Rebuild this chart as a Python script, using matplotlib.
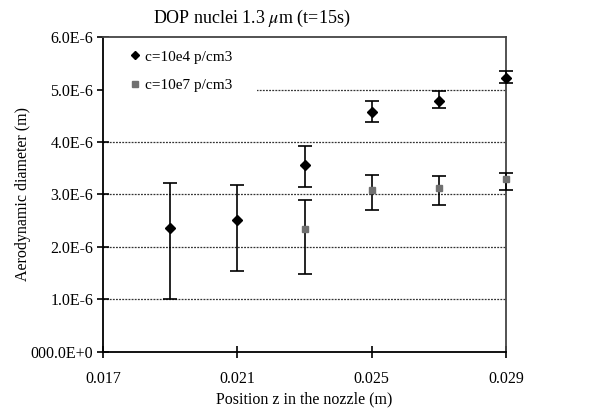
import matplotlib.pyplot as plt
from matplotlib.lines import Line2D
from matplotlib.patches import Rectangle
from matplotlib.ticker import FixedLocator

plt.rcParams["font.family"] = ["Liberation Serif", "DejaVu Serif"]
plt.rcParams["mathtext.fontset"] = "stix"

# c=10e4 p/cm3
z_low = [0.019, 0.021, 0.023, 0.025, 0.027, 0.029]
d_low = [2.37e-6, 2.51e-6, 3.57e-6, 4.57e-6, 4.79e-6, 5.22e-6]
d_low_hi = [3.215e-6, 3.19e-6, 3.92e-6, 4.79e-6, 4.965e-6, 5.35e-6]
d_low_lo = [1.01e-6, 1.55e-6, 3.14e-6, 4.39e-6, 4.64e-6, 5.13e-6]

# c=10e7 p/cm3
z_high = [0.023, 0.025, 0.027, 0.029]
d_high = [2.34e-6, 3.08e-6, 3.13e-6, 3.30e-6]
d_high_hi = [2.895e-6, 3.37e-6, 3.35e-6, 3.40e-6]
d_high_lo = [1.49e-6, 2.70e-6, 2.80e-6, 3.08e-6]

x_ticks = [0.017, 0.021, 0.025, 0.029]
y_ticks = [0, 1e-6, 2e-6, 3e-6, 4e-6, 5e-6, 6e-6]
y_labels = ["000.0E+0", "1.0E-6", "2.0E-6", "3.0E-6", "4.0E-6", "5.0E-6", "6.0E-6"]

fig = plt.figure(figsize=(6.14, 4.16), dpi=100)
ax = fig.add_axes([0.168, 0.154, 0.656, 0.757])

err_low = [[v - lo for v, lo in zip(d_low, d_low_lo)],
           [hi - v for v, hi in zip(d_low, d_low_hi)]]
err_high = [[v - lo for v, lo in zip(d_high, d_high_lo)],
            [hi - v for v, hi in zip(d_high, d_high_hi)]]

for z, d, err, mk, col, ms in [(z_low, d_low, err_low, "D", "black", 5),
                               (z_high, d_high, err_high, "s", "#707070", 5)]:
    cont = ax.errorbar(z, d, yerr=err, fmt=mk, color=col, ms=ms,
                       ecolor="black", elinewidth=1.2, capsize=5, capthick=1.2,
                       zorder=3)
    cont.lines[0].set_clip_on(False)
    for art in cont.lines[1] + cont.lines[2]:
        art.set_clip_on(False)

ax.set_xlim(0.017, 0.029)
ax.set_ylim(0, 6e-6)
ax.xaxis.set_major_locator(FixedLocator(x_ticks))
ax.set_xticklabels(["%.3f" % v for v in x_ticks])
ax.yaxis.set_major_locator(FixedLocator(y_ticks))
ax.set_yticklabels(y_labels)
ax.tick_params(direction="inout", length=8, width=1.2, labelsize=11.5, colors="black")
ax.tick_params(axis="x", pad=10)
ax.tick_params(axis="y", pad=3)

for y in y_ticks[1:-1]:
    ax.axhline(y, color="#333333", lw=0.9, ls=(0, (1.5, 1)), zorder=1)

for s in ["left", "bottom"]:
    ax.spines[s].set_linewidth(1.3)
    ax.spines[s].set_color("black")
for s in ["top", "right"]:
    ax.spines[s].set_linewidth(1.3)
    ax.spines[s].set_color("#444444")

ax.set_xlabel("Position z in the nozzle (m)", fontsize=11.5)
ax.set_ylabel("Aerodynamic diameter (m)", fontsize=11.5)
ax.xaxis.set_label_coords(0.5, -0.152)
ax.yaxis.set_label_coords(-0.20, 0.5)
ax.xaxis.label.set_va("center")
ax.yaxis.label.set_va("center")
fig.text(0.41, 0.955, r"DOP nuclei 1.3 $\mu$m (t=15s)", fontsize=13, ha="center", va="center")

# white legend area covering the gridline, as in the original
ax.add_patch(Rectangle((0, 0.79), 0.383, 0.21, transform=ax.transAxes,
                       facecolor="white", edgecolor="none", zorder=2))

handles = [Line2D([], [], ls="none", marker="D", color="black", ms=4.5),
           Line2D([], [], ls="none", marker="s", color="#707070", ms=4.5)]
ax.legend(handles, ["c=10e4 p/cm3", "c=10e7 p/cm3"], loc="upper left",
          bbox_to_anchor=(0.025, 1.012), fontsize=11, frameon=False,
          handlelength=0.6, handletextpad=0.35, borderpad=0.6, labelspacing=0.95)

fig.savefig("out.png", dpi=100)
